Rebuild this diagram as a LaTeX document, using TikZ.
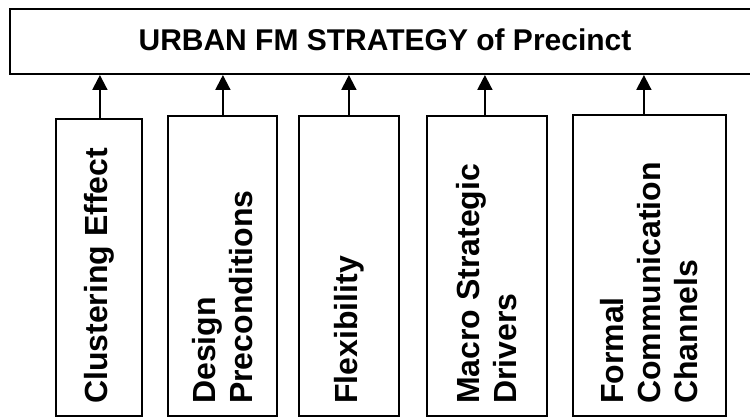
\documentclass[tikz,border=0pt]{standalone}
\usepackage{fontspec}
\setmainfont{Liberation Sans}
\usetikzlibrary{arrows.meta}
\begin{document}
\begin{tikzpicture}[x=1pt,y=-1pt,
  frame/.style={draw, line width=1.8pt, rectangle, inner sep=0pt, anchor=north west},
  vlabel/.style={rotate=90, anchor=west, align=left, inner sep=0pt,
    font=\bfseries\fontsize{32}{37}\selectfont},
  uparrow/.style={line width=2pt, -{Triangle[width=15pt,length=15pt]}}]
\useasboundingbox (0,0) rectangle (750,417);

% strategy banner
\node[frame, line width=2pt, minimum width=753pt, minimum height=65pt] (top) at (9,8) {};
\node[font=\bfseries\fontsize{30}{36}\selectfont] (title) at (385,40) {URBAN FM STRATEGY of Precinct};

% factor boxes
\node[frame, minimum width=86pt,  minimum height=297pt] (b1) at (55,118) {};
\node[frame, minimum width=109pt, minimum height=300pt] (b2) at (167,115) {};
\node[frame, minimum width=100pt, minimum height=300pt] (b3) at (298,115) {};
\node[frame, minimum width=120pt, minimum height=300pt] (b4) at (426,115) {};
\node[frame, minimum width=153pt, minimum height=301pt] (b5) at (572,114) {};

% rotated labels
\node[vlabel] (l1) at (b1.south |- 0,404) {Clustering Effect};
\node[vlabel] (l2) at (b2.south |- 0,404) {Design\\Preconditions};
\node[vlabel] (l3) at (b3.south |- 0,404) {Flexibility};
\node[vlabel] (l4) at (b4.south |- 0,404) {Macro Strategic\\Drivers};
\node[vlabel] (l5) at (b5.south |- 0,404) {Formal\\Communication\\Channels};

% arrow feet on the box tops
\coordinate (a1) at ([xshift=1pt]b1.north);
\coordinate (a2) at ([xshift=0.5pt]b2.north);
\coordinate (a3) at (b3.north);
\coordinate (a4) at ([xshift=-2pt]b4.north);
\coordinate (a5) at ([xshift=-5.5pt]b5.north);

\foreach \i in {1,...,5}
  \draw[uparrow] (a\i) -- (a\i |- top.south);
\end{tikzpicture}
\end{document}
